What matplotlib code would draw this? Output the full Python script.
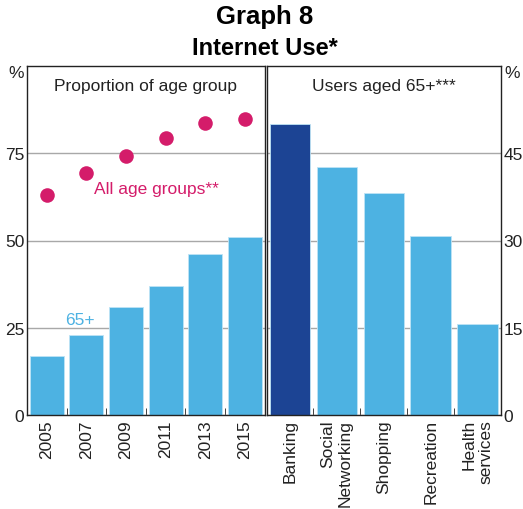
import matplotlib
matplotlib.use("Agg")
import matplotlib.pyplot as plt
from matplotlib.ticker import FixedLocator

plt.rcParams['font.family'] = ['Liberation Sans', 'DejaVu Sans']

years = ['2005', '2007', '2009', '2011', '2013', '2015']
age65 = [17, 23, 31, 37, 46, 51]
all_ages = [63, 69.4, 74.2, 79.5, 83.6, 84.7]

activities = ['Banking', 'Social\nNetworking', 'Shopping', 'Recreation', 'Health\nservices']
users65 = [50, 42.6, 38.1, 30.8, 15.7]

left_ticks = [0, 25, 50, 75]
right_ticks = [0, 15, 30, 45]

LIGHT = '#4DB2E2'
DARK = '#1C4494'
MAG = '#D41C6A'
GRID = '#A8A8A8'

W, H = 523, 510
fig = plt.figure(figsize=(W / 100, H / 100), dpi=100)

def box(x0, x1, y0=67, y1=416):
    return [x0 / W, 1 - y1 / H, (x1 - x0) / W, (y1 - y0) / H]

axL = fig.add_axes(box(27, 264.5))
axR = fig.add_axes(box(266.5, 501))

for ax in (axL, axR):
    for s in ax.spines.values():
        s.set_color('#222222')
        s.set_linewidth(1.0)
    ax.set_axisbelow(True)
    ax.grid(axis='y', color=GRID, linewidth=1.0)
    ax.tick_params(axis='y', length=0, labelsize=12.5, colors='#222222', pad=2)
    ax.tick_params(axis='x', which='major', length=0, labelsize=12.5, colors='#222222', pad=3)
    ax.tick_params(axis='x', which='minor', direction='in', length=5, color='#222222')

# Left panel
xl = range(len(years))
axL.bar(xl, age65, width=0.86, color=LIGHT, edgecolor='#BDE3F5', linewidth=0.6, zorder=2)
axL.scatter(xl, all_ages, s=110, color=MAG, zorder=3, linewidths=0)
axL.set_xlim(-0.5, len(years) - 0.5)
axL.set_ylim(0, 100)
axL.set_yticks(left_ticks)
axL.set_xticks(list(xl))
axL.set_xticklabels(years, rotation=90, va='top', ha='center')
axL.xaxis.set_minor_locator(FixedLocator([i + 0.5 for i in range(len(years) - 1)]))
axL.text(0.5, 0.967, 'Proportion of age group', transform=axL.transAxes,
         ha='center', va='top', fontsize=12.5, color='#222222')
axL.text(0.84, 27.3, '65+', ha='center', va='center', fontsize=12.5, color=LIGHT)
axL.text(2.78, 65, 'All age groups**', ha='center', va='center', fontsize=12.5, color=MAG)
fig.text(24 / W, 1 - 66 / H, '%', ha='right', va='top', fontsize=12.5, color='#222222')

# Right panel
xr = range(len(activities))
colors = [DARK] + [LIGHT] * (len(activities) - 1)
axR.bar(xr, users65, width=0.86, color=colors, edgecolor='#BDE3F5', linewidth=0.6, zorder=2)
axR.set_xlim(-0.5, len(activities) - 0.5)
axR.set_ylim(0, 60)
axR.set_yticks(right_ticks)
axR.yaxis.tick_right()
axR.set_xticks(list(xr))
axR.set_xticklabels(activities, rotation=90, va='top', ha='center', multialignment='right')
axR.xaxis.set_minor_locator(FixedLocator([i + 0.5 for i in range(len(activities) - 1)]))
axR.text(0.5, 0.967, 'Users aged 65+***', transform=axR.transAxes,
         ha='center', va='top', fontsize=12.5, color='#222222')
fig.text(504 / W, 1 - 66 / H, '%', ha='left', va='top', fontsize=12.5, color='#222222')

fig.text(265 / W, 1 - 5 / H, 'Graph 8', ha='center', va='top', fontsize=18.5, fontweight='bold')
fig.text(265 / W, 1 - 37 / H, 'Internet Use*', ha='center', va='top', fontsize=17, fontweight='bold')

fig.savefig('out.png', dpi=100)
